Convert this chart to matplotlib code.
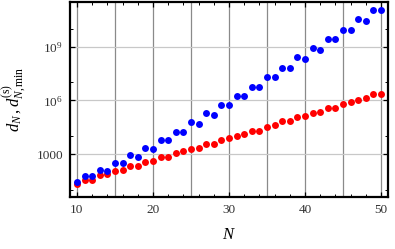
import matplotlib
matplotlib.use("Agg")
import matplotlib.pyplot as plt
from matplotlib.ticker import FixedLocator, NullFormatter, FuncFormatter

# N values and the two series
n_vals = list(range(10, 51))

d_N = [30, 59, 59, 133, 112, 314, 314, 879, 745, 2366,
       1977, 6622, 6622, 18070, 18070, 59840, 49320, 202800, 165200, 567500,
       567500, 1.807e6, 1.807e6, 5.754e6, 5.754e6, 1.928e7, 1.928e7, 6.21e7, 6.21e7, 2.52e8,
       2.03e8, 8.04e8, 6.46e8, 2.66e9, 2.66e9, 8.79e9, 8.79e9, 3.35e10, 2.80e10, 1.11e11,
       1.11e11]

d_min = [23, 39, 39, 67, 79, 112, 133, 214, 214, 357,
         445, 745, 745, 1262, 1510, 1977, 2399, 3963, 3963, 6622,
         7834, 11090, 13090, 21090, 21090, 35240, 41690, 67920, 67920, 116700,
         138000, 195400, 230700, 386400, 386400, 621000, 773000, 1.081e6, 1.294e6, 2.163e6,
         2.163e6]

x_grid = [10, 15, 20, 25, 30, 35, 40, 45, 50]
x_major = [10, 20, 30, 40, 50]
x_minor = [12, 14, 16, 18, 22, 24, 26, 28, 32, 34, 36, 38, 42, 44, 46, 48]
y_major = [1e3, 1e6, 1e9]
y_minor = [1e1, 1e4, 1e7, 1e10]
y_labels = {1e3: "1000", 1e6: "$10^6$", 1e9: "$10^9$"}

plt.rcParams['font.family'] = 'Liberation Serif'
plt.rcParams['mathtext.fontset'] = 'custom'
plt.rcParams['mathtext.rm'] = 'Liberation Serif'
plt.rcParams['mathtext.it'] = 'Liberation Serif:italic'

fig = plt.figure(figsize=(3.95, 2.49), dpi=100)
ax = fig.add_axes([0.177, 0.209, 0.805, 0.783])

ax.set_yscale('log')
ax.set_xlim(9.08, 50.9)
ax.set_ylim(10**0.63, 10**11.48)

for x in x_grid:
    ax.axvline(x, color='#8a8a8a', lw=0.9, zorder=1)
for y in y_major:
    ax.axhline(y, color='#c8c8c8', lw=0.9, zorder=1)

ax.plot(n_vals, d_min, 'o', color='#ff0000', ms=5, mec='none', zorder=3)
ax.plot(n_vals, d_N, 'o', color='#0000ff', ms=5, mec='none', zorder=4)

ax.xaxis.set_major_locator(FixedLocator(x_major))
ax.xaxis.set_minor_locator(FixedLocator(x_minor))
ax.yaxis.set_major_locator(FixedLocator(y_major))
ax.yaxis.set_minor_locator(FixedLocator(y_minor))
ax.yaxis.set_major_formatter(FuncFormatter(lambda v, p: y_labels.get(v, "")))
ax.yaxis.set_minor_formatter(NullFormatter())

ax.tick_params(which='both', direction='in', top=True, right=True,
               labelsize=9.5, colors='black', pad=5)
ax.tick_params(which='major', length=3.5, width=0.9)
ax.tick_params(which='minor', length=2, width=0.7)
ax.tick_params(axis='y', labelcolor='#333333')
ax.tick_params(axis='x', labelcolor='#333333')

for s in ax.spines.values():
    s.set_linewidth(1.6)
    s.set_color('black')

ax.set_xlabel("$N$", fontsize=12, labelpad=8)
ax.set_ylabel("$d_N\\,,d_{N,\\mathrm{min}}^{(\\mathrm{s})}$", fontsize=12, labelpad=5)

fig.savefig("out.png", dpi=100)
